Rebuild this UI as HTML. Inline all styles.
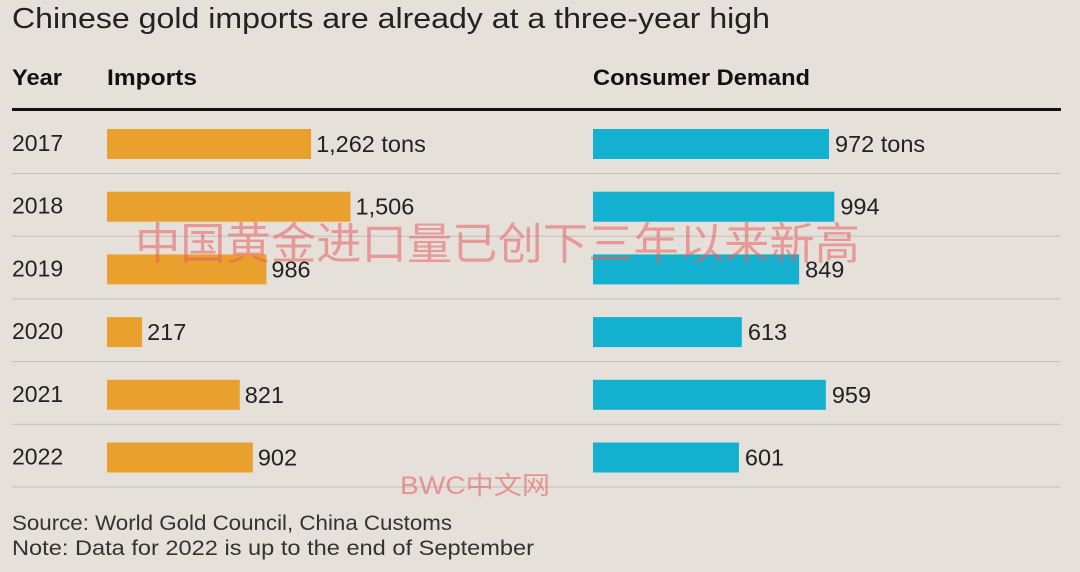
<!DOCTYPE html>
<html><head><meta charset="utf-8">
<style>
body{margin:0;width:1080px;height:572px;background:#e5e0d9;overflow:hidden;font-family:"Liberation Sans","Noto Sans CJK SC",sans-serif;}
svg{display:block}
</style></head>
<body>
<svg id="chart" width="1080" height="572" xmlns="http://www.w3.org/2000/svg">
<rect width="1080" height="572" fill="#e5e0d9"/>
<text x="12" y="28" font-size="29" fill="#222" textLength="758" lengthAdjust="spacingAndGlyphs">Chinese gold imports are already at a three-year high</text>
<text x="12" y="85" font-size="22" font-weight="bold" fill="#111" textLength="50" lengthAdjust="spacingAndGlyphs">Year</text>
<text x="107" y="85" font-size="22" font-weight="bold" fill="#111" textLength="90" lengthAdjust="spacingAndGlyphs">Imports</text>
<text x="593" y="85" font-size="22" font-weight="bold" fill="#111" textLength="217" lengthAdjust="spacingAndGlyphs">Consumer Demand</text>
<rect x="12" y="108" width="1049" height="3" fill="#111"/>
<g id="rows"></g>
<text x="135" y="259" font-size="44" fill="rgba(232,95,95,0.55)" textLength="725" lengthAdjust="spacingAndGlyphs" font-family="'Noto Sans CJK SC',sans-serif">中国黄金进口量已创下三年以来新高</text>
<text x="400" y="494" font-size="25" fill="rgba(232,95,95,0.6)" textLength="150" lengthAdjust="spacingAndGlyphs" font-family="'Liberation Sans','Noto Sans CJK SC',sans-serif">BWC中文网</text>
<text x="12" y="530" font-size="21" fill="#333" textLength="440" lengthAdjust="spacingAndGlyphs">Source: World Gold Council, China Customs</text>
<text x="12" y="555" font-size="21" fill="#333" textLength="522" lengthAdjust="spacingAndGlyphs">Note: Data for 2022 is up to the end of September</text>
</svg>
<script>
const years=["2017","2018","2019","2020","2021","2022"];
const imports=[1262,1506,986,217,821,902];
const demand=[972,994,849,613,959,601];
const NS="http://www.w3.org/2000/svg";
const g=document.getElementById("rows");
const xImp=v=>v*0.1617, xDem=v=>v*0.2428;
const rowY=i=>144+i*62.7;
function mk(tag,attrs){const e=document.createElementNS(NS,tag);for(const k in attrs)e.setAttribute(k,attrs[k]);g.appendChild(e);return e;}
years.forEach((y,i)=>{
  const cy=rowY(i);
  let t=mk("text",{x:12,y:cy+7,"font-size":23,fill:"#222"});t.textContent=y;
  
  
  let b=mk("rect",{x:107,y:cy-15,width:xImp(imports[i]),height:30,fill:"#e9a02d"});
  
  
  let l=mk("text",{x:107+xImp(imports[i])+5,y:cy+8,"font-size":23.5,fill:"#222"});
  l.textContent=imports[i].toLocaleString("en-US")+(i==0?" tons":"");
  
  
  let d=mk("rect",{x:593,y:cy-15,width:xDem(demand[i]),height:30,fill:"#14b0cf"});
  
  
  let dl=mk("text",{x:593+xDem(demand[i])+6,y:cy+8,"font-size":23.5,fill:"#222"});
  dl.textContent=demand[i].toLocaleString("en-US")+(i==0?" tons":"");
  
  
  let s=mk("rect",{x:12,y:cy+29,width:1049,height:1,fill:"#c4bfb8"});
  
  
});
</script>
</body></html>
